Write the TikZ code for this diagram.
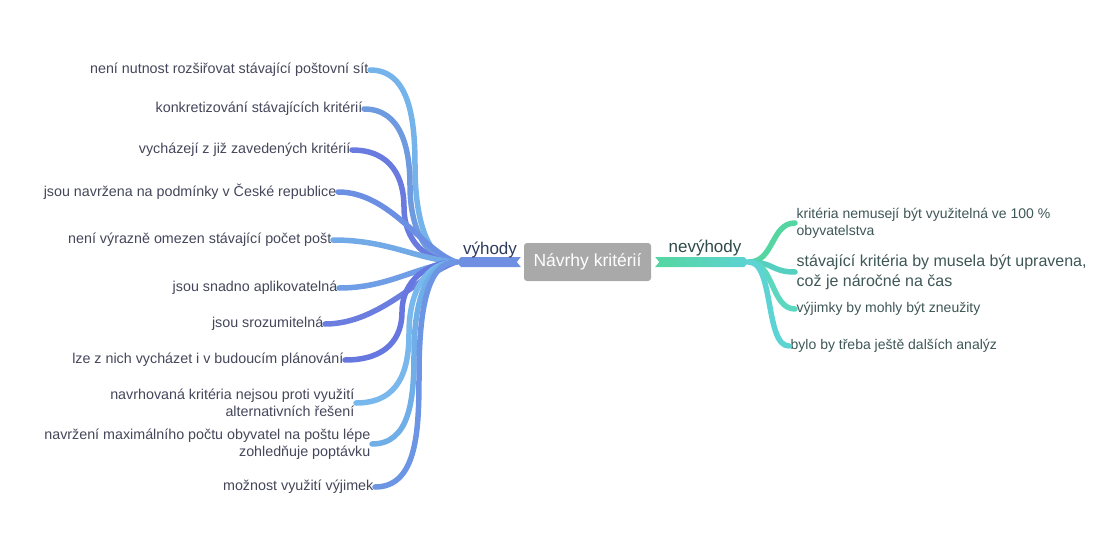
\documentclass[tikz,border=0pt]{standalone}
\usepackage{fontspec}
\setmainfont{Liberation Sans}
\usetikzlibrary{calc}
\definecolor{leaftext}{HTML}{44465A}
\definecolor{rtext}{HTML}{3E5656}
\definecolor{lbltext}{HTML}{2E3B5E}
\definecolor{rlbltext}{HTML}{2F4A4A}
\definecolor{centergray}{HTML}{A9A9A9}
\definecolor{bA}{HTML}{74B4EA}
\definecolor{bB}{HTML}{6E9BE0}
\definecolor{bC}{HTML}{6A7BE0}
\definecolor{bD}{HTML}{6B8FE3}
\definecolor{bE}{HTML}{72AAE8}
\definecolor{bF}{HTML}{6F9DE6}
\definecolor{bG}{HTML}{6B7EE0}
\definecolor{bH}{HTML}{6677E0}
\definecolor{bI}{HTML}{78B8EC}
\definecolor{bJ}{HTML}{70AEE8}
\definecolor{bK}{HTML}{6C96E4}
\definecolor{gA}{HTML}{55D6A0}
\definecolor{gB}{HTML}{55D0C0}
\definecolor{gC}{HTML}{5CD8C0}
\definecolor{gD}{HTML}{5DD3D3}
\definecolor{lband}{HTML}{6F8FE2}
\begin{document}
\begin{tikzpicture}[x=1pt,y=-1pt,
  leaf/.style={font=\fontsize{14.3}{17}\selectfont, text=leaftext, inner sep=1.5pt, align=right, anchor=east},
  rleaf/.style={font=\fontsize{14}{17}\selectfont, text=rtext, inner sep=1.5pt, align=left, anchor=west},
  bigleaf/.style={rleaf, font=\fontsize{16}{20}\selectfont},
  con/.style={line width=5.5pt, line cap=round, line join=round},
  lbl/.style={font=\fontsize{17}{20}\selectfont, inner sep=0pt},
]
\useasboundingbox (0,0) rectangle (1118,540);

% centre
\node[fill=centergray, rounded corners=3pt, minimum width=127pt, minimum height=38pt,
      text=white, font=\fontsize{17.5}{20}\selectfont, inner sep=0pt] (c) at (587.5,262) {Návrhy kritérií};

\coordinate (lh) at (456,262);
\coordinate (rh) at (749,262);

% left leaves
\node[leaf] (l1) at (370,70) {není nutnost rozšiřovat stávající poštovní sít};
\node[leaf] (l2) at (364,109) {konkretizování stávajících kritérií};
\node[leaf] (l3) at (352,150) {vycházejí z již zavedených kritérií};
\node[leaf] (l4) at (338,192) {jsou navržena na podmínky v České republice};
\node[leaf] (l5) at (333,240) {není výrazně omezen stávající počet pošt};
\node[leaf] (l6) at (339,288) {jsou snadno aplikovatelná};
\node[leaf] (l7) at (325,324) {jsou srozumitelná};
\node[leaf] (l8) at (345,360) {lze z nich vycházet i v budoucím plánování};
\node[leaf] (l9) at (356,403) {navrhovaná kritéria nejsou proti využití\\alternativních řešení};
\node[leaf] (l10) at (372,444) {navržení maximálního počtu obyvatel na poštu lépe\\zohledňuje poptávku};
\node[leaf] (l11) at (375,487) {možnost využití výjimek};

% connectors
\draw[con, bA] (l1.east) .. controls +(40,0) and +(0,-45) .. (415,166) .. controls +(0,50) and +(-30,0) .. (lh);
\draw[con, bB] (l2.east) .. controls +(38,0) and +(0,-36) .. (410,186) .. controls +(0,42) and +(-30,0) .. (lh);
\draw[con, bC] (l3.east) .. controls +(40,0) and +(0,-28) .. (404,207) .. controls +(0,34) and +(-30,0) .. (lh);
\draw[con, bD] (l4.east) .. controls +(52,0) and +(-34,-12) .. (lh);
\draw[con, bE] (l5.east) .. controls +(55,0) and +(-40,-3) .. (lh);
\draw[con, bF] (l6.east) .. controls +(50,0) and +(-40,4) .. (lh);
\draw[con, bG] (l7.east) .. controls +(55,0) and +(-36,12) .. (lh);
\draw[con, bH] (l8.east) .. controls +(42,0) and +(0,26) .. (402,312) .. controls +(0,-32) and +(-28,0) .. (lh);
\draw[con, bI] (l9.east) .. controls +(44,0) and +(0,36) .. (409,333) .. controls +(0,-42) and +(-30,0) .. (lh);
\draw[con, bJ] (l10.east) .. controls +(38,0) and +(0,45) .. (414,354) .. controls +(0,-52) and +(-30,0) .. (lh);
\draw[con, bK] (l11.east) .. controls +(42,0) and +(0,55) .. (419,376) .. controls +(0,-62) and +(-30,0) .. (lh);

% main branches
\fill[lband] (lh) -- ++(5,-5) -- ($(c.west)+(-3,-5)$) -- ($(c.west)+(-7,0)$) -- ($(c.west)+(-3,5)$) -- ($(lh)+(5,5)$) -- cycle;
\shade[left color=gA, right color=gD] ($(c.east)+(4,-5)$) -- ($(rh)+(-5,-5)$) -- (rh) -- ($(rh)+(-5,5)$) -- ($(c.east)+(4,5)$) -- ($(c.east)+(8,0)$) -- cycle;

\node[lbl, text=lbltext, anchor=base] (vy) at (490,254) {výhody};
\node[lbl, text=rlbltext, anchor=base] (ne) at (705,252) {nevýhody};

% right leaves
\node[rleaf] (r1) at (795,223) {kritéria nemusejí být využitelná ve 100 \%\\obyvatelstva};
\node[bigleaf] (r2) at (795,272) {stávající kritéria by musela být upravena,\\což je náročné na čas};
\node[rleaf] (r3) at (795,309) {výjimky by mohly být zneužity};
\node[rleaf] (r4) at (789,346) {bylo by třeba ještě dalších analýz};

\foreach \n/\col in {r1/gA,r2/gB,r3/gC,r4/gD}{
  \draw[con, \col] (rh) .. controls ($(rh)+(25,0)$) and ($(\n.west)+(-24,0)$) .. (\n.west);
}
\end{tikzpicture}
\end{document}
